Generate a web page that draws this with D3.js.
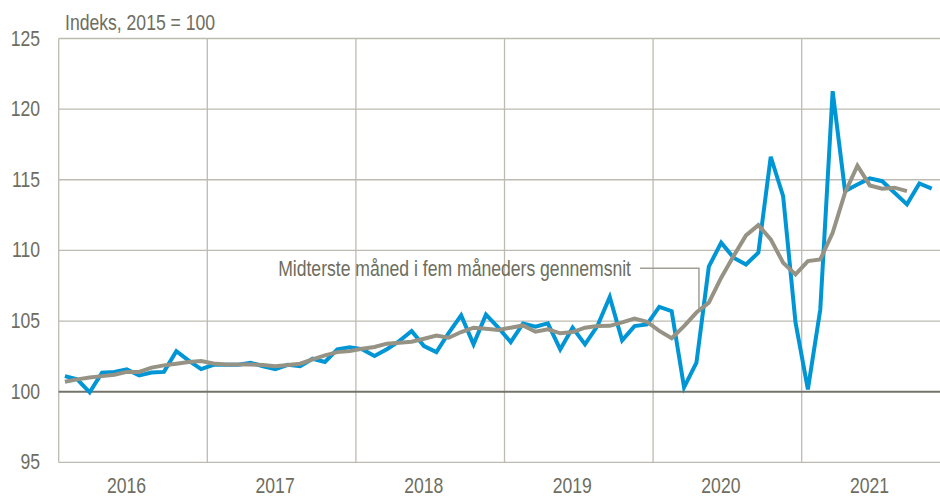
<!DOCTYPE html>
<html>
<head>
<meta charset="utf-8">
<script src="https://cdn.jsdelivr.net/npm/d3@7"></script>
<style>
  body { margin: 0; background: #fff; }
  svg { display: block; }
  text { font-family: "Liberation Sans Narrow", "Arial Narrow", "Liberation Sans", sans-serif; fill: #6e6d60; font-size: 22px; }
</style>
</head>
<body>
<script>
// Years on the x axis, monthly data Jan 2016 ->
const years = [2016, 2017, 2018, 2019, 2020, 2021];
const yTicks = [95, 100, 105, 110, 115, 120, 125];

// Monthly index (blue), Jan 2016 - Nov 2021
const monthly = [
  101.1, 100.87, 99.95, 101.35, 101.4, 101.58, 101.15, 101.35, 101.4, 102.87, 102.2, 101.6,
  101.9, 101.9, 101.9, 102.05, 101.8, 101.6, 101.9, 101.8, 102.33, 102.1, 103.0, 103.15,
  103.0, 102.52, 103.0, 103.58, 104.29, 103.23, 102.8, 104.17, 105.4, 103.35, 105.45, 104.53,
  103.51, 104.83, 104.6, 104.83, 102.99, 104.53, 103.35, 104.64, 106.7, 103.63, 104.64, 104.76,
  106.0, 105.7, 100.3, 102.05, 108.85, 110.55, 109.48, 109.0, 109.84, 116.63, 113.84, 104.9,
  100.16, 105.82, 121.27, 114.2, 114.67, 115.1, 114.9, 114.08, 113.26, 114.74, 114.37
];

// Centred five-month average (grey), Jan 2016 - Sep 2021
const avg5 = [
  100.7, 100.87, 101.0, 101.1, 101.2, 101.4, 101.4, 101.7, 101.86, 101.98, 102.1, 102.17,
  102.0, 101.93, 101.93, 101.93, 101.88, 101.8, 101.88, 101.98, 102.28, 102.57, 102.8, 102.87,
  103.04, 103.16, 103.4, 103.47, 103.54, 103.75, 103.98, 103.82, 104.22, 104.53, 104.46, 104.36,
  104.53, 104.69, 104.24, 104.41, 104.13, 104.22, 104.53, 104.64, 104.66, 104.9, 105.18, 104.95,
  104.3, 103.78, 104.64, 105.6, 106.3, 108.07, 109.6, 111.06, 111.79, 110.78, 109.13, 108.3,
  109.24, 109.36, 111.25, 114.08, 116.0, 114.6, 114.37, 114.44, 114.2
];

const W = 940, H = 498;
const svg = d3.select('body').append('svg')
  .attr('width', W)
  .attr('height', H);

const plotLeft = 58.7, plotTop = 38.5, plotBottom = 462.3;
const x = d3.scaleLinear().domain([0, 72]).range([plotLeft, 950.3]);
const y = d3.scaleLinear().domain([95, 125]).range([plotBottom, plotTop]);

// no narrow font installed, so squeeze the text horizontally
const squeeze = 0.8;
const at = (tx, ty) => `translate(${tx},${ty}) scale(${squeeze},1)`;

// horizontal grid lines
svg.selectAll('.hgrid')
  .data(yTicks.filter(d => d !== 100))
  .enter().append('line')
  .attr('x1', plotLeft).attr('x2', W)
  .attr('y1', d => y(d)).attr('y2', d => y(d))
  .attr('stroke', '#bdbbb1').attr('stroke-width', 1.3);

// vertical year lines
svg.selectAll('.vgrid')
  .data(years)
  .enter().append('line')
  .attr('x1', (d, i) => x(i * 12)).attr('x2', (d, i) => x(i * 12))
  .attr('y1', plotTop).attr('y2', plotBottom)
  .attr('stroke', '#bdbbb1').attr('stroke-width', 1.3);

// 100 line
svg.append('line')
  .attr('x1', plotLeft).attr('x2', W)
  .attr('y1', y(100)).attr('y2', y(100))
  .attr('stroke', '#74736a').attr('stroke-width', 2);

// y labels
svg.selectAll('.ylab')
  .data(yTicks)
  .enter().append('text')
  .attr('transform', d => at(40, y(d) + 7))
  .attr('text-anchor', 'end')
  .text(d => d);

// year labels
svg.selectAll('.xlab')
  .data(years)
  .enter().append('text')
  .attr('transform', (d, i) => at(x(i * 12 + 6) - 6.5, 493))
  .attr('text-anchor', 'middle')
  .text(d => d);

svg.append('text')
  .attr('transform', at(65, 30))
  .text('Indeks, 2015 = 100');

const line = d3.line()
  .x((d, i) => x(i + 0.5))
  .y(d => y(d));

svg.append('path')
  .datum(monthly)
  .attr('fill', 'none')
  .attr('stroke', '#0096d6')
  .attr('stroke-width', 4)
  .attr('d', line);

svg.append('path')
  .datum(avg5)
  .attr('fill', 'none')
  .attr('stroke', '#969385')
  .attr('stroke-width', 4)
  .attr('d', line);

// annotation with leader line to the grey series (Apr 2020)
const ai = 51;
const lx = x(ai + 0.5) + 2.5, ly = 268.3;
svg.append('path')
  .attr('d', `M640,${ly}H${lx}V${y(avg5[ai]) - 3}`)
  .attr('fill', 'none')
  .attr('stroke', '#a19f94')
  .attr('stroke-width', 1.5);

svg.append('text')
  .attr('transform', at(631, 276))
  .attr('text-anchor', 'end')
  .text('Midterste måned i fem måneders gennemsnit');
</script>
</body>
</html>
